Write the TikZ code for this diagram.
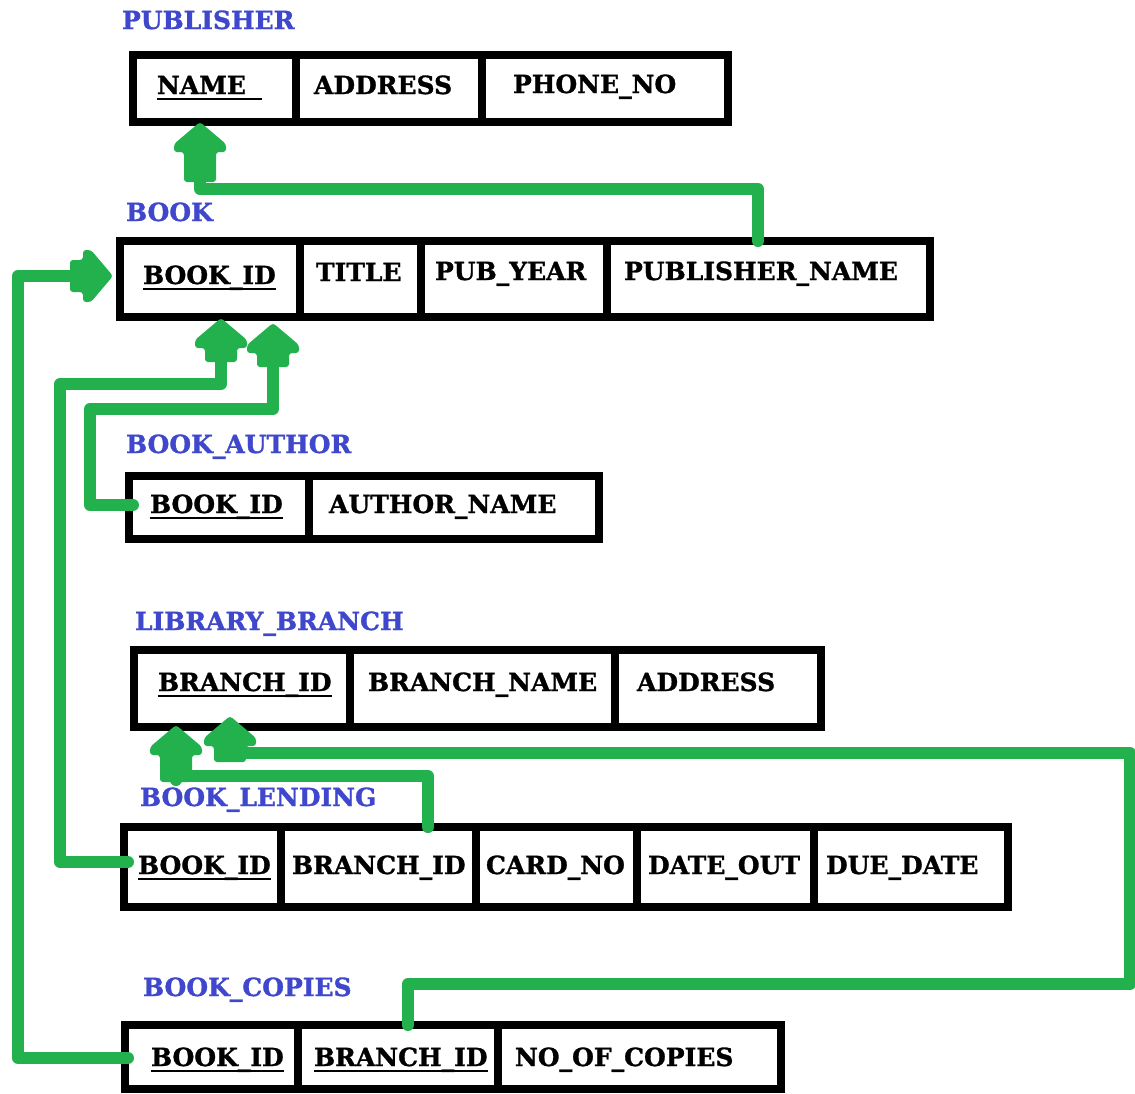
\documentclass[tikz,border=0pt]{standalone}
\usepackage{fontspec}
\setmainfont{DejaVu Serif}[BoldFeatures={FakeBold=1.2}]
\definecolor{linkgreen}{HTML}{22B14C}
\definecolor{titleblue}{HTML}{3F48CC}
\newcommand\ulnode[1]{\draw[ul] ([yshift=-5pt]#1.base west) -- ([yshift=-5pt]#1.base east);}
\begin{document}
\begin{tikzpicture}[x=1pt,y=-1pt,
  cell/.style={draw=black,line width=8pt,inner sep=0pt,outer sep=0pt},
  fld/.style={inner sep=0pt,outer sep=0pt,anchor=base west,font=\fontsize{25}{29}\selectfont\bfseries},
  ttl/.style={fld,text=titleblue},
  ul/.style={line width=2.2pt,draw=black},
  link/.style={draw=linkgreen,line width=12pt,line join=round,line cap=round},
  pics/barrow/.style={code={\fill[linkgreen,rounded corners=3pt] (0,0) -- (-26,22) -- (-26,30) -- (-16,30) -- (-16,#1) -- (16,#1) -- (16,30) -- (26,30) -- (26,22) -- cycle;}}
]
\useasboundingbox (0,0) rectangle (1135,1093);
\fill[white] (0,0) rectangle (1135,1093);
\clip (0,0) rectangle (1135,1093);

% ---------- PUBLISHER
\node[ttl] (t-pub) at (122,29) {PUBLISHER};
\node[cell,minimum width=163pt,minimum height=67pt] (pub-name) at (214.5,88.5) {};
\node[cell,minimum width=186pt,minimum height=67pt] (pub-address) at (389,88.5) {};
\node[cell,minimum width=246pt,minimum height=67pt] (pub-phone) at (605,88.5) {};
\node[fld] (x-pub-name) at (157,94) {NAME\kern16pt};
\ulnode{x-pub-name}
\node[fld] (x-pub-address) at (314,94) {ADDRESS};
\node[fld] (x-pub-phone) at (513,93) {PHONE\_NO};

% ---------- BOOK
\node[ttl] (t-book) at (126,221) {BOOK};
\node[cell,minimum width=180pt,minimum height=76pt] (book-id) at (210,279) {};
\node[cell,minimum width=121pt,minimum height=76pt] (book-title) at (360.5,279) {};
\node[cell,minimum width=186pt,minimum height=76pt] (book-year) at (514,279) {};
\node[cell,minimum width=323pt,minimum height=76pt] (book-pub) at (768.5,279) {};
\node[fld] (x-book-id) at (143,284) {BOOK\_ID};
\ulnode{x-book-id}
\node[fld] (x-book-title) at (316,281) {TITLE};
\node[fld] (x-book-year) at (435,280) {PUB\_YEAR};
\node[fld] (x-book-pub) at (624,280) {PUBLISHER\_NAME};

% ---------- BOOK_AUTHOR
\node[ttl] (t-ba) at (126,453) {BOOK\_AUTHOR};
\node[cell,minimum width=180pt,minimum height=63pt] (ba-id) at (219,507.5) {};
\node[cell,minimum width=290pt,minimum height=63pt] (ba-name) at (454,507.5) {};
\node[fld] (x-ba-id) at (150,513) {BOOK\_ID};
\ulnode{x-ba-id}
\node[fld] (x-ba-name) at (329,513) {AUTHOR\_NAME};

% ---------- LIBRARY_BRANCH
\node[ttl] (t-lb) at (135,630) {LIBRARY\_BRANCH};
\node[cell,minimum width=216pt,minimum height=77pt] (lb-id) at (242,688.5) {};
\node[cell,minimum width=265pt,minimum height=77pt] (lb-name) at (482.5,688.5) {};
\node[cell,minimum width=206pt,minimum height=77pt] (lb-address) at (718,688.5) {};
\node[fld] (x-lb-id) at (158,691) {BRANCH\_ID};
\ulnode{x-lb-id}
\node[fld] (x-lb-name) at (368,691) {BRANCH\_NAME};
\node[fld] (x-lb-address) at (637,691) {ADDRESS};

% ---------- BOOK_LENDING
\node[ttl] (t-bl) at (140,806) {BOOK\_LENDING};
\node[cell,minimum width=157pt,minimum height=80pt] (bl-book) at (202.5,867) {};
\node[cell,minimum width=195pt,minimum height=80pt] (bl-branch) at (378.5,867) {};
\node[cell,minimum width=161pt,minimum height=80pt] (bl-card) at (556.5,867) {};
\node[cell,minimum width=177pt,minimum height=80pt] (bl-out) at (725.5,867) {};
\node[cell,minimum width=194pt,minimum height=80pt] (bl-due) at (911,867) {};
\node[fld] (x-bl-book) at (138,874) {BOOK\_ID};
\ulnode{x-bl-book}
\node[fld] (x-bl-branch) at (292,874) {BRANCH\_ID};
\node[fld] (x-bl-card) at (486,874) {CARD\_NO};
\node[fld] (x-bl-out) at (648,874) {DATE\_OUT};
\node[fld] (x-bl-due) at (826,874) {DUE\_DATE};

% ---------- BOOK_COPIES
\node[ttl] (t-bc) at (143,996) {BOOK\_COPIES};
\node[cell,minimum width=173pt,minimum height=64pt] (bc-book) at (211.5,1057) {};
\node[cell,minimum width=200pt,minimum height=64pt] (bc-branch) at (398,1057) {};
\node[cell,minimum width=283pt,minimum height=64pt] (bc-copies) at (639.5,1057) {};
\node[fld] (x-bc-book) at (151,1066) {BOOK\_ID};
\ulnode{x-bc-book}
\node[fld] (x-bc-branch) at (314,1066) {BRANCH\_ID};
\ulnode{x-bc-branch}
\node[fld] (x-bc-copies) at (515,1066) {NO\_OF\_COPIES};

% ---------- connector end points
\coordinate (c1s) at (758,241);  \coordinate (c1t) at (200,122);
\coordinate (c2s) at (128,1058); \coordinate (c2t) at (113,276);
\coordinate (c3s) at (128,862);  \coordinate (c3t) at (221,318);
\coordinate (c4s) at (133,505);  \coordinate (c4t) at (273,323);
\coordinate (c5s) at (428,827);  \coordinate (c5t) at (176,725);
\coordinate (c6s) at (408,1025); \coordinate (c6t) at (230,716);

% ---------- connectors
\draw[link] (c1s) -- ++(0,-52) -| ([yshift=-60pt]c1t);
\pic at (c1t) {barrow=60};

\draw[link] (c2s) -- (18,1058) |- ([xshift=-41pt]c2t);
\pic[rotate=-90] at (c2t) {barrow=43};

\draw[link] (c3s) -- (60,862) |- (221,384) -- ([yshift=-42pt]c3t);
\pic at (c3t) {barrow=44};

\draw[link] (c4s) -- (90,505) |- (273,409) -- ([yshift=-42pt]c4t);
\pic at (c4t) {barrow=44};

\draw[link] (c5s) |- (176,776) -- ([yshift=-55pt]c5t);
\pic at (c5t) {barrow=57};

\draw[link] (c6s) |- (1130,984) |- (232,753);
\pic at (c6t) {barrow=46};
\end{tikzpicture}
\end{document}
